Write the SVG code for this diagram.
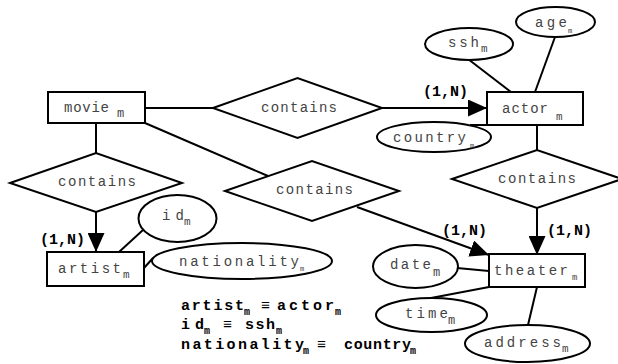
<svg xmlns="http://www.w3.org/2000/svg" width="618" height="364" viewBox="0 0 618 364">
<defs>
<style>
.shape{fill:#fff;stroke:#000;stroke-width:2}
.ln{stroke:#000;stroke-width:2;fill:none}
text{opacity:0.999}
.lbl{font-family:"Liberation Mono","DejaVu Sans Mono",monospace;font-size:14px;fill:#444}
.sub{font-family:"Liberation Mono","DejaVu Sans Mono",monospace;fill:#444}
.card{font-family:"Liberation Mono","DejaVu Sans Mono",monospace;font-size:15px;font-weight:bold;fill:#000}
.eq{font-family:"Liberation Mono","DejaVu Sans Mono",monospace;font-size:15px;font-weight:bold;fill:#000}
</style>
<marker id="arr" viewBox="0 0 19 17" refX="19" refY="8.5" markerWidth="19" markerHeight="17" markerUnits="userSpaceOnUse" orient="auto">
<path d="M0,0 L19,8.5 L0,17 Z" fill="#000"/>
</marker>
</defs>
<rect width="618" height="364" fill="#fff"/>

<g id="connectors">
<line class="ln" x1="145" y1="108" x2="213" y2="108"/>
<line class="ln" x1="382" y1="108" x2="487" y2="108" marker-end="url(#arr)"/>
<line class="ln" x1="96" y1="123" x2="96" y2="153"/>
<line class="ln" x1="96" y1="212" x2="96" y2="252" marker-end="url(#arr)"/>
<line class="ln" x1="145" y1="123" x2="268" y2="176"/>
<line class="ln" x1="357" y1="207" x2="489" y2="255" marker-end="url(#arr)"/>
<line class="ln" x1="537" y1="125" x2="537" y2="150"/>
<line class="ln" x1="537" y1="208" x2="537" y2="255" marker-end="url(#arr)"/>
<line class="ln" x1="468" y1="59" x2="511" y2="92"/>
<line class="ln" x1="555" y1="37" x2="535" y2="92"/>
<line class="ln" x1="470" y1="125" x2="487" y2="125"/>
<line class="ln" x1="143" y1="230" x2="119" y2="252"/>
<line class="ln" x1="144" y1="268" x2="153" y2="258"/>
<line class="ln" x1="457" y1="268" x2="489" y2="271"/>
<line class="ln" x1="431" y1="298" x2="489" y2="287"/>
<line class="ln" x1="537" y1="287" x2="528" y2="325"/>
<text class="card" x="423" y="96">(1,N)</text>
<text class="card" x="442" y="235">(1,N)</text>
<text class="card" x="547" y="235">(1,N)</text>
<text class="card" x="40" y="244">(1,N)</text>
</g>

<g id="movie">
<rect class="shape" x="48" y="92" width="97" height="31"/>
<text class="lbl"><tspan x="64" y="112" textLength="45" lengthAdjust="spacing">movie</tspan><tspan class="sub" x="117" y="117" font-size="12">m</tspan></text>
</g>
<g id="contains-top">
<polygon class="shape" points="213,108 297.5,78 382,108 297.5,138"/>
<text class="lbl" x="261" y="112" textLength="76" lengthAdjust="spacing">contains</text>
</g>
<g id="actor">
<rect class="shape" x="487" y="92" width="96" height="33"/>
<text class="lbl"><tspan x="502" y="113" textLength="46" lengthAdjust="spacing">actor</tspan><tspan class="sub" x="556" y="120" font-size="11">m</tspan></text>
</g>
<g id="ssh">
<ellipse class="shape" cx="469" cy="44" rx="44" ry="16"/>
<text class="lbl"><tspan x="448" y="47" textLength="31" lengthAdjust="spacing">ssh</tspan><tspan class="sub" x="481" y="52" font-size="11">m</tspan></text>
</g>
<g id="age">
<ellipse class="shape" cx="555.5" cy="22" rx="39.5" ry="15"/>
<text class="lbl"><tspan x="535" y="27" textLength="32" lengthAdjust="spacing">age</tspan><tspan class="sub" x="568" y="33" font-size="7">m</tspan></text>
</g>
<g id="country">
<ellipse class="shape" cx="434" cy="137" rx="57" ry="15"/>
<text class="lbl"><tspan x="393" y="142" textLength="73" lengthAdjust="spacing">country</tspan><tspan class="sub" x="470" y="148" font-size="7">m</tspan></text>
</g>
<g id="contains-left">
<polygon class="shape" points="10,183 96,153 182,183 96,212"/>
<text class="lbl" x="58" y="186" textLength="78" lengthAdjust="spacing">contains</text>
</g>
<g id="contains-mid">
<polygon class="shape" points="225,191 312,161 399,191 312,221"/>
<text class="lbl" x="276" y="194" textLength="77" lengthAdjust="spacing">contains</text>
</g>
<g id="contains-right">
<polygon class="shape" points="452,179 537,150 622,179 537,208"/>
<text class="lbl" x="498" y="183" textLength="78" lengthAdjust="spacing">contains</text>
</g>
<g id="artist">
<rect class="shape" x="47" y="252" width="97" height="34"/>
<text class="lbl"><tspan x="58" y="273" textLength="63" lengthAdjust="spacing">artist</tspan><tspan class="sub" x="123" y="278" font-size="11">m</tspan></text>
</g>
<g id="id">
<ellipse class="shape" cx="177.5" cy="218.5" rx="39" ry="23.5"/>
<text class="lbl"><tspan x="162" y="220" textLength="22" lengthAdjust="spacing">id</tspan><tspan class="sub" x="184" y="225" font-size="11">m</tspan></text>
</g>
<g id="nationality">
<ellipse class="shape" cx="242" cy="261" rx="90" ry="18"/>
<text class="lbl"><tspan x="179" y="266" textLength="120" lengthAdjust="spacing">nationality</tspan><tspan class="sub" x="300" y="271" font-size="7">m</tspan></text>
</g>
<g id="theater">
<rect class="shape" x="489" y="254" width="96" height="33"/>
<text class="lbl"><tspan x="494" y="275" textLength="74" lengthAdjust="spacing">theater</tspan><tspan class="sub" x="572" y="280" font-size="9">m</tspan></text>
</g>
<g id="date">
<ellipse class="shape" cx="415.5" cy="266.5" rx="42.5" ry="21.5"/>
<text class="lbl"><tspan x="390" y="269" textLength="41" lengthAdjust="spacing">date</tspan><tspan class="sub" x="433" y="276" font-size="12">m</tspan></text>
</g>
<g id="time">
<ellipse class="shape" cx="431.5" cy="315" rx="55.5" ry="17"/>
<text class="lbl"><tspan x="405" y="318" textLength="43" lengthAdjust="spacing">time</tspan><tspan class="sub" x="448" y="324" font-size="12">m</tspan></text>
</g>
<g id="address">
<ellipse class="shape" cx="527.5" cy="343.5" rx="62.5" ry="18.5"/>
<text class="lbl"><tspan x="484" y="347" textLength="77" lengthAdjust="spacing">address</tspan><tspan class="sub" x="562" y="352" font-size="11">m</tspan></text>
</g>

<g id="equivalences">
<text class="eq"><tspan x="181" y="310" textLength="63" lengthAdjust="spacing">artist</tspan><tspan x="244" y="315" font-size="10">m</tspan><tspan x="261" y="310" font-weight="normal">≡</tspan><tspan x="277" y="310" textLength="57" lengthAdjust="spacing">actor</tspan><tspan x="335" y="315" font-size="10">m</tspan></text>
<text class="eq"><tspan x="181" y="329" textLength="23" lengthAdjust="spacing">id</tspan><tspan x="204" y="334" font-size="10">m</tspan><tspan x="223" y="329" font-weight="normal">≡</tspan><tspan x="245" y="329" textLength="30" lengthAdjust="spacing">ssh</tspan><tspan x="276" y="334" font-size="10">m</tspan></text>
<text class="eq"><tspan x="181" y="349" textLength="123" lengthAdjust="spacing">nationality</tspan><tspan x="303" y="354" font-size="10">m</tspan><tspan x="317" y="349" font-weight="normal">≡</tspan><tspan x="344" y="349" textLength="67" lengthAdjust="spacing">country</tspan><tspan x="410" y="354" font-size="10">m</tspan></text>
</g>
</svg>
